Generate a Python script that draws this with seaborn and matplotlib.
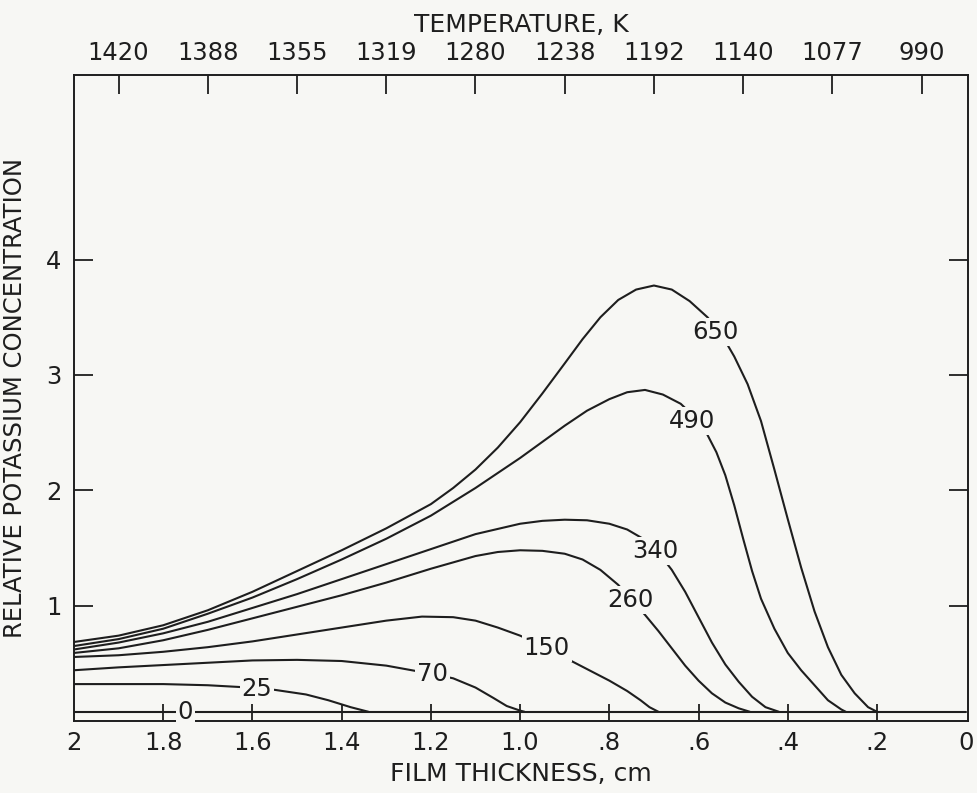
import numpy as np
import pandas as pd
import matplotlib
matplotlib.use("Agg")
import matplotlib.pyplot as plt
import seaborn as sns

# ---------------- data ----------------
t650 = [2.0, 1.9, 1.8, 1.7, 1.6, 1.5, 1.4, 1.3, 1.2, 1.15, 1.10, 1.05, 1.00, 0.95, 0.90, 0.86,
        0.82, 0.78, 0.74, 0.70, 0.66, 0.62, 0.58, 0.55, 0.52, 0.49, 0.46, 0.43, 0.40, 0.37,
        0.34, 0.31, 0.28, 0.25, 0.22, 0.20]
v650 = [0.685, 0.74, 0.83, 0.96, 1.12, 1.30, 1.48, 1.67, 1.88, 2.02, 2.18, 2.37, 2.59, 2.84,
        3.10, 3.31, 3.50, 3.65, 3.74, 3.775, 3.74, 3.64, 3.50, 3.36, 3.16, 2.92, 2.60, 2.18,
        1.75, 1.33, 0.95, 0.64, 0.40, 0.24, 0.12, 0.08]

t490 = [2.0, 1.9, 1.8, 1.7, 1.6, 1.5, 1.4, 1.3, 1.2, 1.1, 1.0, 0.95, 0.90, 0.85, 0.80, 0.76,
        0.72, 0.68, 0.64, 0.61, 0.58, 0.56, 0.54, 0.52, 0.50, 0.48, 0.46, 0.43, 0.40, 0.37,
        0.34, 0.31, 0.28, 0.27]
v490 = [0.65, 0.71, 0.80, 0.93, 1.07, 1.23, 1.40, 1.58, 1.78, 2.02, 2.28, 2.42, 2.56, 2.69,
        2.79, 2.85, 2.87, 2.83, 2.75, 2.64, 2.48, 2.33, 2.13, 1.87, 1.58, 1.30, 1.06, 0.80,
        0.59, 0.44, 0.31, 0.18, 0.10, 0.08]

t340 = [2.0, 1.9, 1.8, 1.7, 1.6, 1.5, 1.4, 1.3, 1.2, 1.1, 1.0, 0.95, 0.90, 0.85, 0.80, 0.76,
        0.72, 0.69, 0.66, 0.63, 0.60, 0.57, 0.54, 0.51, 0.48, 0.45, 0.42]
v340 = [0.62, 0.68, 0.76, 0.86, 0.98, 1.10, 1.23, 1.36, 1.49, 1.62, 1.71, 1.735, 1.745, 1.74,
        1.71, 1.66, 1.57, 1.46, 1.31, 1.12, 0.90, 0.68, 0.49, 0.34, 0.21, 0.12, 0.08]

t260 = [2.0, 1.9, 1.8, 1.7, 1.6, 1.5, 1.4, 1.3, 1.2, 1.1, 1.05, 1.00, 0.95, 0.90, 0.86, 0.82,
        0.78, 0.75, 0.72, 0.69, 0.66, 0.63, 0.60, 0.57, 0.54, 0.51, 0.485]
v260 = [0.59, 0.63, 0.70, 0.79, 0.89, 0.99, 1.09, 1.20, 1.32, 1.43, 1.465, 1.48, 1.475, 1.45,
        1.40, 1.31, 1.18, 1.05, 0.92, 0.78, 0.63, 0.48, 0.35, 0.24, 0.16, 0.11, 0.08]

t150 = [2.0, 1.9, 1.8, 1.7, 1.6, 1.5, 1.4, 1.3, 1.22, 1.15, 1.10, 1.05, 1.00, 0.95, 0.90,
        0.85, 0.80, 0.76, 0.73, 0.71, 0.69]
v150 = [0.555, 0.57, 0.60, 0.64, 0.69, 0.75, 0.81, 0.87, 0.905, 0.90, 0.87, 0.81, 0.74, 0.65,
        0.55, 0.45, 0.35, 0.26, 0.18, 0.12, 0.08]

t70 = [2.0, 1.9, 1.8, 1.7, 1.6, 1.5, 1.4, 1.3, 1.25, 1.2, 1.15, 1.10, 1.06, 1.03, 1.00, 0.99]
v70 = [0.44, 0.465, 0.485, 0.505, 0.525, 0.53, 0.52, 0.48, 0.445, 0.41, 0.37, 0.29, 0.20,
       0.13, 0.09, 0.08]

t25 = [2.0, 1.9, 1.8, 1.7, 1.63, 1.55, 1.48, 1.43, 1.38, 1.34]
v25 = [0.32, 0.32, 0.32, 0.31, 0.295, 0.27, 0.23, 0.18, 0.12, 0.08]

t0 = [2.0, 0.0]
v0 = [0.08, 0.08]

curve_names = ["650", "490", "340", "260", "150", "70", "25", "0"]
curve_t = [t650, t490, t340, t260, t150, t70, t25, t0]
curve_v = [v650, v490, v340, v260, v150, v70, v25, v0]

bottom_ticks = [2.0, 1.8, 1.6, 1.4, 1.2, 1.0, 0.8, 0.6, 0.4, 0.2, 0.0]
bottom_labels = ["2", "1.8", "1.6", "1.4", "1.2", "1.0", ".8", ".6", ".4", ".2", "0"]
top_ticks = [1.9, 1.7, 1.5, 1.3, 1.1, 0.9, 0.7, 0.5, 0.3, 0.1]
top_labels = ["1420", "1388", "1355", "1319", "1280", "1238", "1192", "1140", "1077", "990"]
y_ticks = [1, 2, 3, 4]
y_labels = ["1", "2", "3", "4"]
base_ticks = [1.8, 1.6, 1.4, 1.2, 1.0, 0.8, 0.6, 0.4, 0.2]

# label anchor positions (layout only)
label_pos = {"650": (0.563, 3.37), "490": (0.615, 2.60), "340": (0.698, 1.47),
             "260": (0.753, 1.05), "150": (0.94, 0.63), "70": (1.196, 0.41),
             "25": (1.59, 0.28), "0": (1.75, 0.08)}

# ---------------- style ----------------
sns.set_theme(style="white")
plt.rcParams['font.family'] = ['DejaVu Sans']
INK = "#1e1e1e"
BG = "#f7f7f4"
FS = 17.5

fig = plt.figure(figsize=(9.77, 7.93), dpi=100, facecolor=BG)
ax = fig.add_axes([74 / 977, 1 - 721 / 793, (968 - 74) / 977, (721 - 75) / 793])
ax.set_facecolor(BG)

frames = []
for name, tt, vv in zip(curve_names, curve_t, curve_v):
    frames.append(pd.DataFrame({"t": tt, "v": vv, "curve": name}))
df = pd.concat(frames, ignore_index=True)

for name in curve_names:
    sub = df[df["curve"] == name]
    sns.lineplot(data=sub, x="t", y="v", sort=False, estimator=None,
                 color=INK, lw=1.5, ax=ax, legend=False)

for name in curve_names:
    x, y = label_pos[name]
    ax.text(x, y, name, ha="center", va="center", fontsize=FS, color=INK,
            bbox=dict(boxstyle="square,pad=0.08", fc=BG, ec="none"), zorder=5)

ax.set_xlim(2.0, -0.004)
ax.set_ylim(0, 5.6)

for s in ax.spines.values():
    s.set_color(INK)
    s.set_linewidth(1.4)

ax.set_xticks(bottom_ticks)
ax.set_xticklabels(bottom_labels)
ax.tick_params(axis="x", bottom=True, length=0, pad=7, labelsize=FS, colors=INK)
ax.set_yticks(y_ticks)
ax.set_yticklabels(y_labels)
ax.tick_params(axis="y", left=True, right=True, direction="in", length=14, width=1.3,
               pad=9, labelsize=FS, colors=INK)
ax.set_xlabel("FILM THICKNESS, cm", fontsize=18, color=INK, labelpad=5)
ax.set_ylabel("RELATIVE POTASSIUM CONCENTRATION", fontsize=17.5, color=INK, labelpad=14)

# temperature axis on top
top = ax.secondary_xaxis("top")
top.set_xticks(top_ticks)
top.set_xticklabels(top_labels)
top.tick_params(direction="in", length=14, width=1.3, pad=7, labelsize=FS, colors=INK)
top.spines["top"].set_visible(False)
top.set_xlabel("TEMPERATURE, K", fontsize=18, color=INK, labelpad=7)

# tick crosses on the baseline curve
base = ax.secondary_xaxis(0.08 / 5.6)
base.set_xticks(base_ticks)
base.tick_params(direction="inout", length=12, width=1.3, labelbottom=False, colors=INK)
base.spines["bottom"].set_visible(False)

fig.savefig("out.png", dpi=100, facecolor=BG)
